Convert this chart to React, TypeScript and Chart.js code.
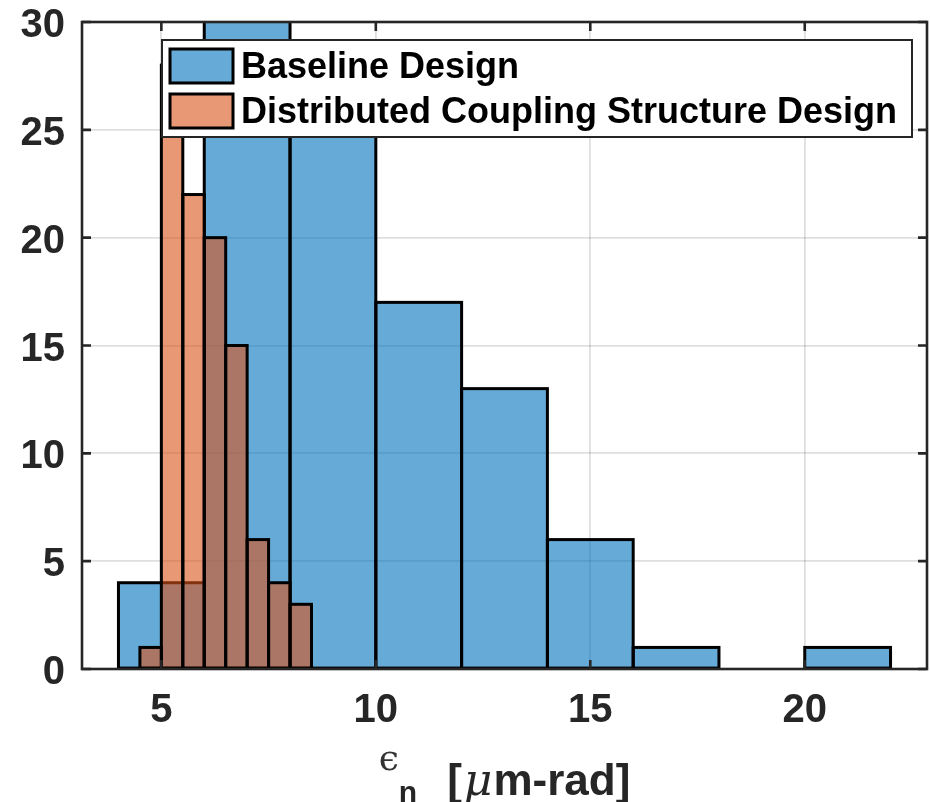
import React, { useEffect, useRef } from "react";
import { Chart, registerables } from "chart.js";

Chart.register(...registerables);

// ---- data ----
const baselineBinEdges = [4, 6, 8, 10, 12, 14, 16, 18, 20, 22];
const baselineCounts = [4, 35, 28, 17, 13, 6, 1, 0, 1];
const dcsBinEdges = [4.5, 5, 5.5, 6, 6.5, 7, 7.5, 8, 8.5];
const dcsCounts = [1, 28, 22, 20, 15, 6, 4, 3];
const xTickValues = [5, 10, 15, 20];
const yTickValues = [0, 5, 10, 15, 20, 25, 30];
const seriesLabels = ["Baseline Design", "Distributed Coupling Structure Design"];
const xLimits = [3.15, 22.85];
const yLimits = [0, 30];

const FONT = "'Liberation Sans', Arial, Helvetica, sans-serif";
const AXIS_COLOR = "#262626";
const BLUE = "rgba(0,114,189,0.6)";
const ORANGE = "rgba(217,83,25,0.6)";
const BLUE_SOLID = "rgb(102,170,215)";
const ORANGE_SOLID = "rgb(232,152,117)";

const toPoints = (edges: number[], counts: number[]) =>
  counts.map((c, i) => ({ x: (edges[i] + edges[i + 1]) / 2, y: c }));

const barOutlinePlugin = {
  id: "barOutline",
  afterDatasetDraw(chart: any, args: any) {
    const { ctx, chartArea } = chart;
    const meta = args.meta;
    ctx.save();
    ctx.beginPath();
    ctx.rect(chartArea.left, chartArea.top, chartArea.right - chartArea.left, chartArea.bottom - chartArea.top);
    ctx.clip();
    ctx.strokeStyle = "#000";
    ctx.lineWidth = 3;
    ctx.lineJoin = "miter";
    meta.data.forEach((el: any) => {
      const { x, y, base, width } = el.getProps(["x", "y", "base", "width"], true);
      const h = Math.abs(base - y);
      if (h < 0.5) return;
      ctx.strokeRect(x - width / 2, Math.min(y, base), width, h);
    });
    ctx.restore();
  },
};

const frameLegendLabelPlugin = {
  id: "frameLegendLabel",
  afterDraw(chart: any) {
    const { ctx, chartArea } = chart;
    const { left, right, top, bottom } = chartArea;
    const xs = chart.scales.x;
    const ys = chart.scales.y;
    ctx.save();
    // axes box
    ctx.strokeStyle = AXIS_COLOR;
    ctx.lineWidth = 2.6;
    ctx.strokeRect(left, top, right - left, bottom - top);
    // inward ticks
    const tl = 9;
    ctx.beginPath();
    xTickValues.forEach((v) => {
      const px = xs.getPixelForValue(v);
      ctx.moveTo(px, bottom);
      ctx.lineTo(px, bottom - tl);
      ctx.moveTo(px, top);
      ctx.lineTo(px, top + tl);
    });
    yTickValues.forEach((v) => {
      const py = ys.getPixelForValue(v);
      ctx.moveTo(left, py);
      ctx.lineTo(left + tl, py);
      ctx.moveTo(right, py);
      ctx.lineTo(right - tl, py);
    });
    ctx.stroke();

    // legend
    const lx = 162, ly = 40, lw = 750, lh = 97;
    ctx.fillStyle = "#fff";
    ctx.fillRect(lx, ly, lw, lh);
    ctx.lineWidth = 2;
    ctx.strokeStyle = AXIS_COLOR;
    ctx.strokeRect(lx, ly, lw, lh);
    const swatches = [BLUE_SOLID, ORANGE_SOLID];
    const rowY = [66, 111];
    seriesLabels.forEach((lab, i) => {
      ctx.fillStyle = swatches[i];
      ctx.fillRect(170, rowY[i] - 17, 63, 34);
      ctx.lineWidth = 3;
      ctx.strokeStyle = "#000";
      ctx.strokeRect(170, rowY[i] - 17, 63, 34);
      ctx.fillStyle = "#000";
      ctx.font = `bold 36px ${FONT}`;
      ctx.textBaseline = "middle";
      ctx.textAlign = "left";
      ctx.fillText(lab, 241, rowY[i] + 2);
    });

    // x axis label: ϵ_n [μm-rad]
    const baseY = 795;
    const parts = [
      { t: "\u03F5", f: `36px 'DejaVu Serif', serif`, dy: -25, gap: 0, c: "#333" },
      { t: "n", f: `bold 30px ${FONT}`, dy: 7, gap: 0, c: AXIS_COLOR },
      { t: "[", f: `bold 44px ${FONT}`, dy: 0, gap: 30, c: AXIS_COLOR },
      { t: "\u03BC", f: `italic 44px 'DejaVu Serif', serif`, dy: 0, gap: 2, c: AXIS_COLOR },
      { t: "m-rad]", f: `bold 44px ${FONT}`, dy: 0, gap: 1, c: AXIS_COLOR },
    ];
    let total = 0;
    const widths = parts.map((p) => {
      ctx.font = p.f;
      const w = ctx.measureText(p.t).width;
      total += w + p.gap;
      return w;
    });
    let cx = (left + right) / 2 - total / 2;
    ctx.textAlign = "left";
    ctx.textBaseline = "alphabetic";
    parts.forEach((p, i) => {
      cx += p.gap;
      ctx.font = p.f;
      ctx.fillStyle = p.c;
      ctx.fillText(p.t, cx, baseY + p.dy);
      cx += widths[i];
    });
    ctx.restore();
  },
};

export default function App() {
  const canvasRef = useRef<HTMLCanvasElement | null>(null);

  useEffect(() => {
    if (!canvasRef.current) return;
    const chart = new Chart(canvasRef.current, {
      type: "bar",
      data: {
        datasets: [
          {
            label: seriesLabels[0],
            data: toPoints(baselineBinEdges, baselineCounts),
            backgroundColor: BLUE,
            borderWidth: 0,
            xAxisID: "x",
            grouped: false,
            order: 1,
            barPercentage: 1,
            categoryPercentage: 1,
          },
          {
            label: seriesLabels[1],
            data: toPoints(dcsBinEdges, dcsCounts),
            backgroundColor: ORANGE,
            borderWidth: 0,
            xAxisID: "x2",
            grouped: false,
            order: 0,
            barPercentage: 1,
            categoryPercentage: 1,
          },
        ] as any,
      },
      options: {
        animation: false,
        responsive: true,
        maintainAspectRatio: false,
        layout: { padding: { top: 22, right: 3, left: 0, bottom: 0 } },
        plugins: { legend: { display: false }, tooltip: { enabled: false } },
        scales: {
          x: {
            type: "linear",
            position: "bottom",
            min: xLimits[0],
            max: xLimits[1],
            offset: false,
            afterBuildTicks: (s: any) => {
              s.ticks = xTickValues.map((v) => ({ value: v }));
            },
            afterFit: (s: any) => {
              s.height = 133;
            },
            grid: { color: "rgba(38,38,38,0.15)", lineWidth: 1.8, drawTicks: false, offset: false },
            border: { display: false },
            ticks: {
              color: AXIS_COLOR,
              font: { family: FONT, size: 40, weight: "bold" },
              padding: 18,
              maxRotation: 0,
              autoSkip: false,
            },
          },
          x2: {
            type: "linear",
            position: "bottom",
            display: false,
            min: xLimits[0],
            max: xLimits[1],
            offset: false,
            afterBuildTicks: (s: any) => {
              s.ticks = dcsBinEdges.map((v) => ({ value: v }));
            },
          },
          y: {
            type: "linear",
            stacked: false,
            min: yLimits[0],
            max: yLimits[1],
            afterBuildTicks: (s: any) => {
              s.ticks = yTickValues.map((v) => ({ value: v }));
            },
            afterFit: (s: any) => {
              s.width = 82;
              s.paddingTop = 0;
              s.paddingBottom = 0;
            },
            grid: { color: "rgba(38,38,38,0.15)", lineWidth: 1.8, drawTicks: false },
            border: { display: false },
            ticks: {
              color: AXIS_COLOR,
              font: { family: FONT, size: 40, weight: "bold" },
              padding: 17,
              labelOffset: 4,
            },
          },
        },
      } as any,
      plugins: [barOutlinePlugin, frameLegendLabelPlugin],
    });
    return () => chart.destroy();
  }, []);

  return (
    <div style={{ position: "fixed", left: 0, top: 0, width: 930, height: 802, background: "#fff" }}>
      <canvas ref={canvasRef} />
    </div>
  );
}
